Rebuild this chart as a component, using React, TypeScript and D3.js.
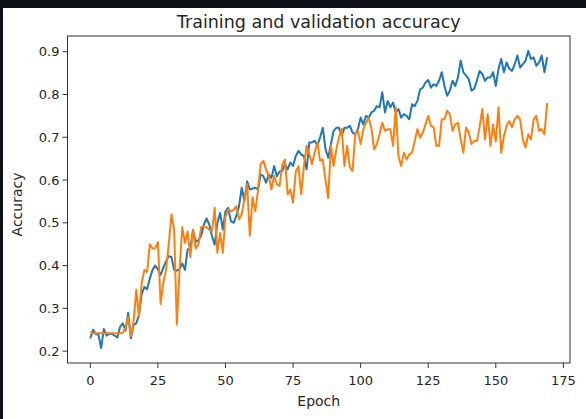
import React from 'react';
import * as d3 from 'd3';

// accuracy per epoch
const trainAcc = [
  0.230, 0.250, 0.240, 0.238, 0.207, 0.252, 0.236, 0.240, 0.240, 0.236,
  0.232, 0.257, 0.265, 0.248, 0.290, 0.230, 0.262, 0.265, 0.285, 0.333,
  0.350, 0.345, 0.370, 0.390, 0.400, 0.391, 0.378, 0.395, 0.410, 0.422,
  0.420, 0.390, 0.388, 0.392, 0.405, 0.390, 0.438, 0.440, 0.484, 0.455,
  0.460, 0.470, 0.496, 0.510, 0.496, 0.469, 0.449, 0.500, 0.523, 0.484,
  0.527, 0.535, 0.504, 0.500, 0.516, 0.539, 0.582, 0.551, 0.597, 0.578,
  0.580, 0.582, 0.578, 0.613, 0.609, 0.594, 0.613, 0.605, 0.633, 0.609,
  0.620, 0.621, 0.637, 0.625, 0.641, 0.633, 0.656, 0.668, 0.660, 0.656,
  0.625, 0.688, 0.688, 0.692, 0.680, 0.700, 0.722, 0.672, 0.652, 0.684,
  0.715, 0.722, 0.722, 0.703, 0.722, 0.722, 0.727, 0.711, 0.707, 0.719,
  0.746, 0.730, 0.750, 0.746, 0.758, 0.762, 0.773, 0.770, 0.805, 0.758,
  0.785, 0.770, 0.781, 0.758, 0.766, 0.746, 0.754, 0.750, 0.742, 0.777,
  0.773, 0.785, 0.812, 0.816, 0.828, 0.834, 0.816, 0.824, 0.820, 0.832,
  0.852, 0.820, 0.797, 0.809, 0.832, 0.820, 0.840, 0.879, 0.852, 0.844,
  0.836, 0.809, 0.813, 0.832, 0.855, 0.848, 0.832, 0.840, 0.840, 0.852,
  0.820, 0.860, 0.883, 0.852, 0.875, 0.860, 0.855, 0.871, 0.891, 0.863,
  0.871, 0.879, 0.902, 0.883, 0.887, 0.867, 0.875, 0.891, 0.852, 0.887,
];

const valAcc = [
  0.245, 0.242, 0.242, 0.242, 0.242, 0.242, 0.242, 0.242, 0.242, 0.242,
  0.242, 0.242, 0.243, 0.255, 0.280, 0.235, 0.270, 0.344, 0.280, 0.360,
  0.390, 0.385, 0.450, 0.440, 0.440, 0.455, 0.310, 0.360, 0.390, 0.450,
  0.520, 0.484, 0.262, 0.390, 0.490, 0.453, 0.480, 0.420, 0.484, 0.440,
  0.450, 0.490, 0.492, 0.490, 0.484, 0.480, 0.535, 0.430, 0.476, 0.430,
  0.515, 0.531, 0.527, 0.530, 0.539, 0.508, 0.520, 0.555, 0.590, 0.470,
  0.560, 0.527, 0.574, 0.637, 0.645, 0.625, 0.610, 0.578, 0.610, 0.590,
  0.586, 0.637, 0.648, 0.567, 0.578, 0.547, 0.620, 0.632, 0.567, 0.632,
  0.680, 0.660, 0.637, 0.665, 0.688, 0.645, 0.648, 0.600, 0.558, 0.680,
  0.633, 0.672, 0.700, 0.720, 0.633, 0.680, 0.630, 0.621, 0.707, 0.715,
  0.684, 0.719, 0.734, 0.746, 0.719, 0.672, 0.684, 0.707, 0.734, 0.715,
  0.719, 0.719, 0.680, 0.770, 0.655, 0.633, 0.664, 0.648, 0.660, 0.664,
  0.691, 0.719, 0.699, 0.711, 0.730, 0.750, 0.727, 0.723, 0.680, 0.680,
  0.742, 0.742, 0.762, 0.754, 0.715, 0.730, 0.734, 0.695, 0.664, 0.723,
  0.711, 0.684, 0.691, 0.691, 0.723, 0.766, 0.695, 0.754, 0.680, 0.730,
  0.690, 0.770, 0.664, 0.703, 0.727, 0.738, 0.723, 0.742, 0.750, 0.742,
  0.695, 0.676, 0.707, 0.695, 0.742, 0.750, 0.715, 0.719, 0.707, 0.780,
];

const xTicks = [0, 25, 50, 75, 100, 125, 150, 175];
const yTicks = [0.2, 0.3, 0.4, 0.5, 0.6, 0.7, 0.8, 0.9];

const W = 586;
const H = 419;
const plot = { left: 67.5, right: 570, top: 36, bottom: 363 };
const font = '"DejaVu Sans", sans-serif';

// matplotlib-style 5% padding around the data extent
const padded = (lo: number, hi: number): [number, number] => {
  const m = (hi - lo) * 0.05;
  return [lo - m, hi + m];
};

export default function App() {
  const epochs = d3.range(trainAcc.length);
  const all = trainAcc.concat(valAcc);

  const x = d3.scaleLinear()
    .domain(padded(0, epochs.length - 1))
    .range([plot.left, plot.right]);
  const y = d3.scaleLinear()
    .domain(padded(d3.min(all) as number, d3.max(all) as number))
    .range([plot.bottom, plot.top]);

  const line = d3.line<number>()
    .x((_, i) => x(i))
    .y(d => y(d));

  const cx = (plot.left + plot.right) / 2;
  const cy = (plot.top + plot.bottom) / 2;

  return (
    <svg width={W} height={H} style={{ position: 'absolute', left: 0, top: 0 }} fontFamily={font}>
      <rect width={W} height={H} fill="#0d1117" />
      <rect x={3} y={8} width={W - 3} height={H - 8} fill="#ffffff" />

      <text x={cx} y={28} textAnchor="middle" fontSize={17.5} fill="#262626">
        Training and validation accuracy
      </text>

      {/* x ticks */}
      {xTicks.map(t => (
        <g key={'x' + t} transform={`translate(${x(t)},${plot.bottom})`}>
          <line y2={5} stroke="#333" strokeWidth={1} />
          <text y={21.5} textAnchor="middle" fontSize={13} fill="#262626">{t}</text>
        </g>
      ))}

      {/* y ticks */}
      {yTicks.map(t => (
        <g key={'y' + t} transform={`translate(${plot.left},${y(t)})`}>
          <line x2={-5} stroke="#333" strokeWidth={1} />
          <text x={-8} dy="0.35em" textAnchor="end" fontSize={13} fill="#262626">{t.toFixed(1)}</text>
        </g>
      ))}

      <text x={cx} y={406} textAnchor="middle" fontSize={14} fill="#262626">Epoch</text>
      <text
        transform={`translate(22,${cy + 5}) rotate(-90)`}
        textAnchor="middle"
        fontSize={14}
        fill="#262626"
      >
        Accuracy
      </text>

      <path d={line(trainAcc) ?? ''} fill="none" stroke="#1f77b4" strokeWidth={2} strokeLinejoin="round" />
      <path d={line(valAcc) ?? ''} fill="none" stroke="#ff7f0e" strokeWidth={2} strokeLinejoin="round" />

      <rect
        x={plot.left}
        y={plot.top}
        width={plot.right - plot.left}
        height={plot.bottom - plot.top}
        fill="none"
        stroke="#333"
        strokeWidth={1}
      />
    </svg>
  );
}
